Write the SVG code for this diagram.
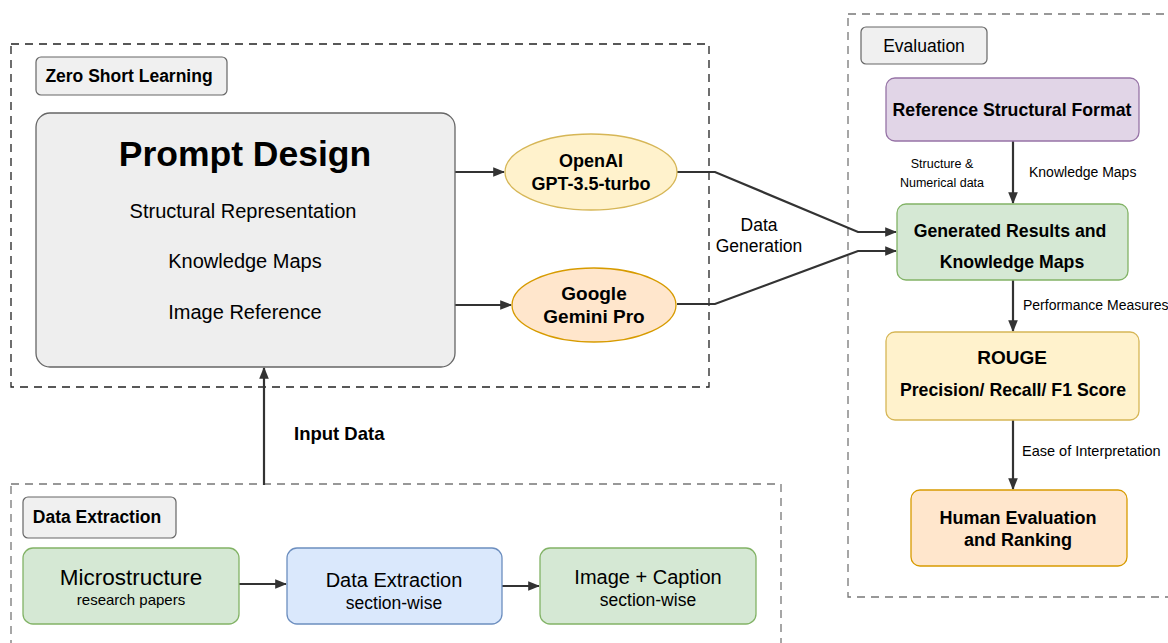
<svg xmlns="http://www.w3.org/2000/svg" width="1168" height="643" viewBox="0 0 1168 643">
<style>
text{font-family:"Liberation Sans",Arial,sans-serif;fill:#000;text-anchor:middle}
.b{font-weight:bold}
.dash{fill:none;stroke-width:1.3;stroke-dasharray:8 6}
.c{fill:none;stroke:#333;stroke-width:2.2}
.lab{fill:#f0f0f0;stroke:#666;stroke-width:1.2}
.s{font-size:14px;text-anchor:start}
</style>
<defs>
<marker id="a" viewBox="0 0 10 10" refX="9" refY="5" markerWidth="12" markerHeight="12" orient="auto" markerUnits="userSpaceOnUse">
<path d="M0,1 L10,5 L0,9 Z" fill="#333"/>
</marker>
</defs>
<rect width="1168" height="643" fill="#fff"/>

<g id="group-zero-short">
<rect class="dash" x="11" y="44" width="698" height="343" stroke="#222"/>
<rect class="lab" x="36" y="57" width="191" height="38" rx="5"/>
<text class="b" x="129" y="82" font-size="17.5">Zero Short Learning</text>
</g>

<g id="group-evaluation">
<rect class="dash" x="848" y="14" width="340" height="583" stroke="#777"/>
<rect class="lab" x="861" y="27" width="126" height="37" rx="5"/>
<text x="924" y="52" font-size="17.5">Evaluation</text>
</g>

<g id="group-data-extraction">
<rect class="dash" x="11" y="484" width="770" height="180" stroke="#777"/>
<rect class="lab" x="23" y="497" width="153" height="41" rx="5"/>
<text class="b" x="97" y="523" font-size="17.5">Data Extraction</text>
</g>

<g id="connectors">
<line class="c" x1="455" y1="172" x2="504" y2="172" marker-end="url(#a)"/>
<line class="c" x1="455" y1="305" x2="511" y2="305" marker-end="url(#a)"/>
<polyline class="c" points="677,172 715,172 858,232 896,232" marker-end="url(#a)"/>
<polyline class="c" points="677,304 715,304 858,251 896,251" marker-end="url(#a)"/>
<line class="c" x1="264" y1="485" x2="264" y2="368" marker-end="url(#a)"/>
<line class="c" x1="1013" y1="141" x2="1013" y2="203" marker-end="url(#a)"/>
<line class="c" x1="1013" y1="280" x2="1013" y2="331" marker-end="url(#a)"/>
<line class="c" x1="1013" y1="420" x2="1013" y2="489" marker-end="url(#a)"/>
<line class="c" x1="239" y1="584" x2="286" y2="584" marker-end="url(#a)"/>
<line class="c" x1="502" y1="586" x2="539" y2="586" marker-end="url(#a)"/>
<text x="759" y="231" font-size="17.5">Data</text>
<text x="759" y="252" font-size="17.5">Generation</text>
<text class="b" x="294" y="440" font-size="18.5" style="text-anchor:start">Input Data</text>
<text x="1029" y="177" class="s">Knowledge Maps</text>
<text x="942" y="168" font-size="12.5">Structure &amp;</text>
<text x="942" y="187" font-size="12.5">Numerical data</text>
<text x="1023" y="310" class="s">Performance Measures</text>
<text x="1022" y="456" font-size="14.5" style="text-anchor:start">Ease of Interpretation</text>
</g>

<g id="prompt-design">
<rect x="36" y="113" width="419" height="254" rx="14" fill="#eeeeee" stroke="#666" stroke-width="1.3"/>
<text class="b" x="245" y="166" font-size="35.5">Prompt Design</text>
<text x="243" y="218" font-size="20">Structural Representation</text>
<text x="245" y="268" font-size="20">Knowledge Maps</text>
<text x="245" y="319" font-size="20">Image Reference</text>
</g>

<g id="openai">
<ellipse cx="591" cy="172" rx="86" ry="38" fill="#fff2cc" stroke="#d6b656" stroke-width="1.3"/>
<text class="b" x="591" y="167" font-size="18">OpenAI</text>
<text class="b" x="591" y="190" font-size="18">GPT-3.5-turbo</text>
</g>

<g id="gemini">
<ellipse cx="594" cy="305" rx="82" ry="37" fill="#ffe6cc" stroke="#d79b00" stroke-width="1.3"/>
<text class="b" x="594" y="300" font-size="19">Google</text>
<text class="b" x="594" y="323" font-size="19">Gemini Pro</text>
</g>

<g id="reference-format">
<rect x="886" y="78" width="253" height="63" rx="9" fill="#e1d5e7" stroke="#9673a6" stroke-width="1.3"/>
<text class="b" x="1012" y="116" font-size="17.7">Reference Structural Format</text>
</g>

<g id="generated-results">
<rect x="897" y="204" width="231" height="76" rx="9" fill="#d5e8d4" stroke="#82b366" stroke-width="1.3"/>
<text class="b" x="1010" y="237" font-size="17.7">Generated Results and</text>
<text class="b" x="1012" y="268" font-size="17.7">Knowledge Maps</text>
</g>

<g id="rouge">
<rect x="886" y="332" width="253" height="88" rx="9" fill="#fff2cc" stroke="#d6b656" stroke-width="1.3"/>
<text class="b" x="1012" y="364" font-size="19">ROUGE</text>
<text class="b" x="1013" y="396" font-size="17.7">Precision/ Recall/ F1 Score</text>
</g>

<g id="human-evaluation">
<rect x="911" y="490" width="216" height="76" rx="9" fill="#ffe6cc" stroke="#d79b00" stroke-width="1.3"/>
<text class="b" x="1018" y="524" font-size="18">Human Evaluation</text>
<text class="b" x="1018" y="546" font-size="18">and Ranking</text>
</g>

<g id="microstructure">
<rect x="23" y="548" width="216" height="76" rx="10" fill="#d5e8d4" stroke="#82b366" stroke-width="1.3"/>
<text x="131" y="585" font-size="22.5">Microstructure</text>
<text x="131" y="605" font-size="15">research papers</text>
</g>

<g id="data-extraction-node">
<rect x="287" y="548" width="215" height="76" rx="10" fill="#dae8fc" stroke="#6c8ebf" stroke-width="1.3"/>
<text x="394" y="587" font-size="20">Data Extraction</text>
<text x="394" y="609" font-size="17.5">section-wise</text>
</g>

<g id="image-caption">
<rect x="540" y="548" width="216" height="76" rx="10" fill="#d5e8d4" stroke="#82b366" stroke-width="1.3"/>
<text x="648" y="584" font-size="20">Image + Caption</text>
<text x="648" y="606" font-size="17.5">section-wise</text>
</g>
</svg>
